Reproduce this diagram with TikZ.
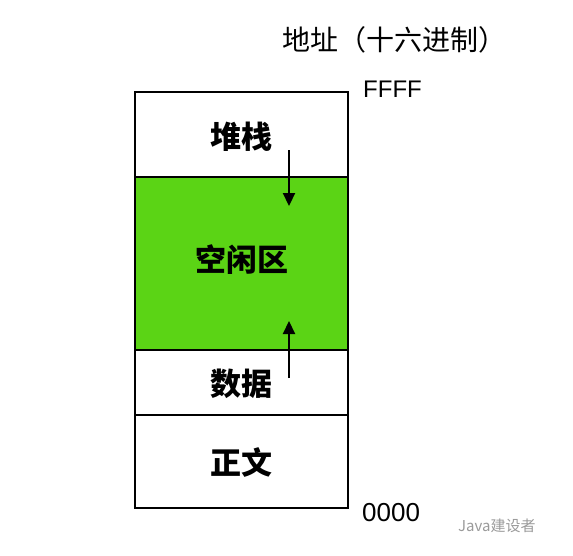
\documentclass[tikz,border=0pt]{standalone}
\usepackage{fontspec}
\setmainfont{Noto Sans CJK SC}
\newfontfamily\latinfont{Liberation Sans}
\usetikzlibrary{arrows.meta,positioning}
\definecolor{freegreen}{HTML}{5BD415}
\definecolor{markgray}{HTML}{9A9A9A}
\begin{document}
\begin{tikzpicture}[x=1pt,y=-1pt]
\tikzset{seg/.style = {draw, line width=1.6pt, minimum width=213pt, inner sep=0pt}}
\tikzset{seglbl/.style = {font=\fontsize{31}{31}\selectfont\bfseries}}
\tikzset{addr/.style = {inner sep=0pt, anchor=west}}
\tikzset{growarrow/.style = {-{Triangle[length=13pt,width=12pt]}, line width=2.2pt}}
\useasboundingbox (0,0) rectangle (573,555);
% memory segments
\node[seg, minimum height=85pt](stack) at (241.5,134.5) {};
\node[seg, minimum height=173pt, fill=freegreen](free) at (241.5,263.5) {};
\node[seg, minimum height=65pt](data) at (241.5,382.5) {};
\node[seg, minimum height=93pt](text) at (241.5,461.5) {};
\node[seglbl](stacklbl) at (241.5,137) {堆栈};
\node[seglbl](freelbl) at (241.5,260) {空闲区};
\node[seglbl](datalbl) at (241.5,384) {数据};
\node[seglbl](textlbl) at (241.5,462) {正文};
% growth arrows
\coordinate (sfrom) at (289,150);
\coordinate (sto) at (289,206);
\coordinate (dfrom) at (289,378);
\coordinate (dto) at (289,321);
\draw[growarrow] (sfrom) -- (sto);
\draw[growarrow] (dfrom) -- (dto);
% addresses
\node[addr, font=\fontsize{28}{28}\selectfont](title) at (282,40) {地址（十六进制）};
\node[addr, font=\latinfont\fontsize{24}{24}\selectfont](high) at (363,89) {FFFF};
\node[addr, font=\latinfont\fontsize{26}{26}\selectfont](low) at (362,513) {0000};
\node[addr, font=\fontsize{15}{15}\selectfont, text=markgray](mark) at (458,526) {Java建设者};
\end{tikzpicture}
\end{document}
